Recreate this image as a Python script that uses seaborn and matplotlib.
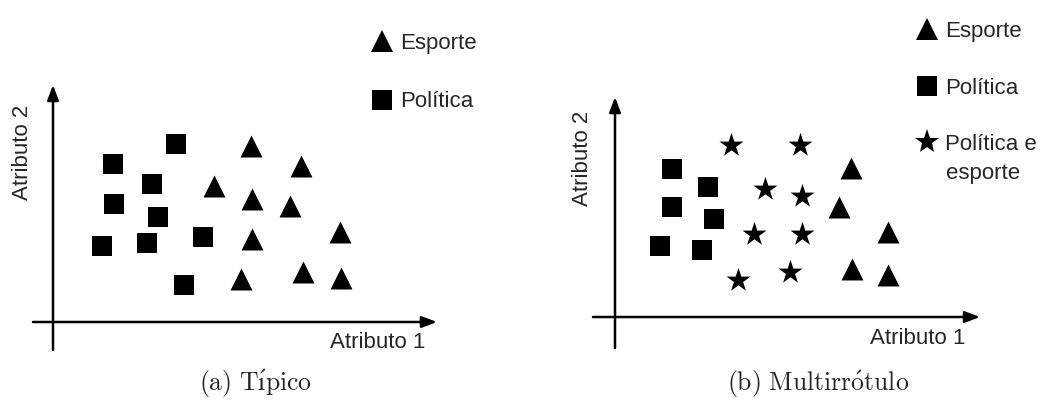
import matplotlib
matplotlib.use("Agg")
import matplotlib.pyplot as plt
from matplotlib.lines import Line2D
import seaborn as sns
import pandas as pd

# panel (a): typical single-label problem
a_sq_x = [6.0, 12.3, 9.9, 6.1, 10.5, 4.9, 9.4, 15.0, 13.1]
a_sq_y = [15.8, 17.8, 13.8, 11.8, 10.5, 7.6, 7.9, 8.5, 3.7]
a_tri_x = [19.8, 24.8, 16.1, 19.9, 23.7, 19.9, 28.7, 18.8, 25.0, 28.8]
a_tri_y = [17.6, 15.6, 13.6, 12.3, 11.6, 8.3, 9.0, 4.3, 5.0, 4.4]

# panel (b): multi-label problem
b_sq_x = [5.7, 9.3, 5.7, 9.9, 4.5, 8.7]
b_sq_y = [14.8, 13.0, 11.0, 9.8, 7.1, 6.7]
b_star_x = [11.6, 18.5, 15.0, 18.7, 13.9, 18.7, 12.3, 17.5]
b_star_y = [17.2, 17.2, 12.8, 12.1, 8.3, 8.3, 3.7, 4.5]
b_tri_x = [23.6, 22.4, 27.3, 23.7, 27.3]
b_tri_y = [14.9, 11.0, 8.5, 4.8, 4.2]

W, H = 1050, 401


def fx(px):
    return px / W


def fy(py):
    return 1 - py / H


def make_df(groups):
    rows = []
    for label, xs, ys in groups:
        rows += [(label, x, y) for x, y in zip(xs, ys)]
    return pd.DataFrame(rows, columns=["classe", "Atributo 1", "Atributo 2"])


markers = {"Esporte": "^", "Política": "s", "Política e esporte": "*"}
sizes = {"Esporte": 250, "Política": 210, "Política e esporte": 330}


def draw_points(ax, df):
    for cls, sub in df.groupby("classe"):
        sns.scatterplot(data=sub, x="Atributo 1", y="Atributo 2", marker=markers[cls],
                        s=sizes[cls], color="black", edgecolor="black", linewidth=0,
                        legend=False, ax=ax)


def draw_axes(ax, x0, x1, y0, y1):
    arrow = dict(arrowstyle="-|>,head_length=0.45,head_width=0.17", lw=1.8,
                 color="black", mutation_scale=20, shrinkA=0, shrinkB=0)
    ax.annotate("", xy=(x1, 0), xytext=(x0, 0), arrowprops=arrow)
    ax.annotate("", xy=(0, y1), xytext=(0, y0), arrowprops=arrow)


sns.set_style("white")
plt.rcParams["font.family"] = ["Liberation Sans", "DejaVu Sans"]
plt.rcParams["mathtext.fontset"] = "cm"

fig = plt.figure(figsize=(10.5, 4.01), dpi=100)
ax_a = fig.add_axes([0, 0, 0.5, 1])
ax_b = fig.add_axes([0.5, 0, 0.5, 1])

df_a = make_df([("Política", a_sq_x, a_sq_y), ("Esporte", a_tri_x, a_tri_y)])
df_b = make_df([("Política", b_sq_x, b_sq_y), ("Política e esporte", b_star_x, b_star_y),
                ("Esporte", b_tri_x, b_tri_y)])

draw_points(ax_a, df_a)
draw_points(ax_b, df_b)

# origin of (a) at pixel (53, 322), of (b) at (615, 317); 10 px per unit
ax_a.set_xlim(-5.3, 47.2)
ax_a.set_ylim(-7.9, 32.2)
ax_b.set_xlim(-9.0, 43.5)
ax_b.set_ylim(-8.4, 31.7)
draw_axes(ax_a, -2.0, 38.4, -2.8, 23.7)
draw_axes(ax_b, -2.2, 36.5, -3.1, 22.0)
for ax in (ax_a, ax_b):
    ax.set_axis_off()

fs = 16
fig.text(fx(23), fy(152), "Atributo 2", rotation=90, ha="center", va="center", fontsize=fs)
fig.text(fx(378), fy(342), "Atributo 1", ha="center", va="center", fontsize=fs)
fig.text(fx(583), fy(158), "Atributo 2", rotation=90, ha="center", va="center", fontsize=fs)
fig.text(fx(918), fy(338), "Atributo 1", ha="center", va="center", fontsize=fs)


def handle(cls):
    ms = sizes[cls] ** 0.5
    return Line2D([], [], marker=markers[cls], color="black", markersize=ms,
                  markeredgewidth=0, linestyle="")


leg_kw = dict(loc="upper left", frameon=False, fontsize=fs, handlelength=1.0,
              handletextpad=0.3, borderpad=0, borderaxespad=0,
              bbox_transform=fig.transFigure)
fig.legend([handle("Esporte"), handle("Política")], ["Esporte", "Política"],
           bbox_to_anchor=(fx(371), fy(33)), labelspacing=1.68, **leg_kw)
fig.legend([handle("Esporte"), handle("Política"), handle("Política e esporte")],
           ["Esporte", "Política", "Política e"],
           bbox_to_anchor=(fx(916), fy(21)), labelspacing=1.6, **leg_kw)
fig.text(fx(946), fy(173), "esporte", ha="left", va="center", fontsize=fs)

fig.text(fx(255), fy(384), r"$\mathrm{(a)\ T\acute{ı}pico}$",
         ha="center", va="center", fontsize=18.5)
fig.text(fx(818), fy(384), r"$\mathrm{(b)\ Multirr\acute{o}tulo}$",
         ha="center", va="center", fontsize=18.5)

fig.savefig("out.png", dpi=100)
